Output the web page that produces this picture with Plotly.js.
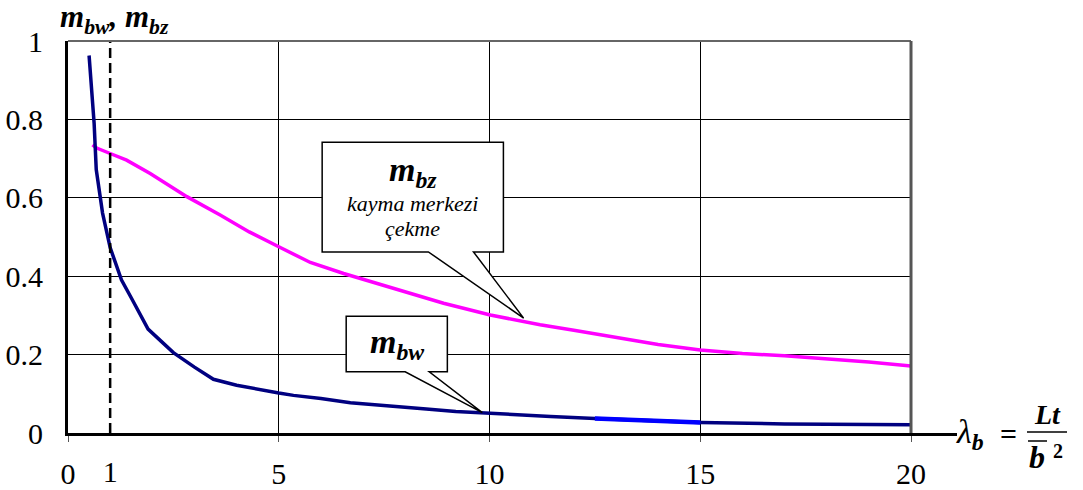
<!DOCTYPE html>
<html>
<head>
<meta charset="utf-8">
<script src="https://cdn.plot.ly/plotly-3.0.1.min.js"></script>
<style>html,body{margin:0;padding:0;background:#fff;}#chart{width:1083px;height:490px;}</style>
</head>
<body>
<div id="chart"></div>
<script>
// ---- data ----
const mbwX = [0.5, 0.58, 0.62, 0.67, 0.82, 1.0, 1.27, 1.5, 1.9, 2.2, 2.5, 3.0, 3.45, 4.0, 4.55, 5.0, 5.35, 6.0, 6.7, 7.5, 8.5, 9.2, 10.0, 10.5, 11.45, 12.5, 15.0, 17.0, 20.0];
const mbwY = [0.963, 0.86, 0.79, 0.672, 0.561, 0.473, 0.39, 0.345, 0.265, 0.235, 0.205, 0.168, 0.137, 0.122, 0.11, 0.102, 0.096, 0.088, 0.077, 0.069, 0.061, 0.055, 0.05, 0.047, 0.042, 0.037, 0.027, 0.023, 0.021];
const mbzX = [0.58, 0.68, 1.0, 1.39, 1.95, 2.82, 3.61, 4.3, 5.0, 5.75, 6.54, 7.33, 8.12, 8.91, 10.02, 10.81, 11.2, 12.0, 13.0, 14.0, 15.0, 16.0, 17.0, 18.0, 19.0, 20.0];
const mbzY = [0.735, 0.727, 0.713, 0.696, 0.662, 0.603, 0.556, 0.513, 0.475, 0.435, 0.407, 0.382, 0.356, 0.331, 0.301, 0.284, 0.276, 0.262, 0.245, 0.226, 0.212, 0.203, 0.197, 0.19, 0.181, 0.171];
const highlightRange = [12.5, 15.0];
const refLineX = [1, 1];
const refLineY = [0, 1];
const xTickVals = [0, 5, 10, 15, 20];
const xTickText = ['0', '5', '10', '15', '20'];
const x2TickVals = [1];
const x2TickText = ['1'];
const yTickVals = [0, 0.2, 0.4, 0.6, 0.8, 1];
const yTickText = ['0', '0.2', '0.4', '0.6', '0.8', '1'];

const hlX = [], hlY = [];
mbwX.forEach((x, i) => { if (x >= highlightRange[0] && x <= highlightRange[1]) { hlX.push(x); hlY.push(mbwY[i]); } });

const SERIF = 'Liberation Serif';

const traces = [
  {x: refLineX, y: refLineY, xaxis: 'x2', yaxis: 'y', mode: 'lines', line: {color: '#000', width: 2.5, dash: '10px,5px'}, hoverinfo: 'skip'},
  {x: mbzX, y: mbzY, mode: 'lines', line: {color: '#FF00FF', width: 3.5}},
  {x: mbwX, y: mbwY, mode: 'lines', line: {color: '#000080', width: 3.5}},
  {x: hlX, y: hlY, mode: 'lines', line: {color: '#0000FF', width: 4.5}}
];

// callout geometry (data units)
const bz = {x0: 6.03, x1: 10.33, y0: 0.462, y1: 0.742, b0: 8.55, b1: 9.62, tx: 10.81, ty: 0.293};
const bw = {x0: 6.60, x1: 9.00, y0: 0.156, y1: 0.298, b0: 8.00, b1: 8.57, tx: 9.83, ty: 0.052};
function calloutPath(c) {
  return `M ${c.x0},${c.y1} L ${c.x1},${c.y1} L ${c.x1},${c.y0} L ${c.b1},${c.y0} L ${c.tx},${c.ty} L ${c.b0},${c.y0} L ${c.x0},${c.y0} Z`;
}

const W = 843, H = 392; // plot area px
const px = v => v / W, py = v => v / H;

const tickFont = {family: SERIF, size: 30, color: '#000'};

const layout = {
  width: 1083, height: 490,
  margin: {l: 68, r: 172, t: 41, b: 57, pad: 0},
  paper_bgcolor: '#fff', plot_bgcolor: '#fff',
  showlegend: false,
  font: {family: SERIF, color: '#000'},
  xaxis: {
    range: [0, 20], tickvals: xTickVals, ticktext: xTickText,
    showline: true, linewidth: 3, linecolor: '#000',
    showgrid: true, gridcolor: '#000', gridwidth: 1, zeroline: false,
    ticks: 'outside', ticklen: 6, tickcolor: '#555', tickwidth: 1,
    ticklabelstandoff: 6,
    tickfont: tickFont
  },
  xaxis2: {
    range: [0, 20], overlaying: 'x', anchor: 'y', side: 'bottom',
    tickvals: x2TickVals, ticktext: x2TickText,
    showline: false, showgrid: false, zeroline: false,
    ticks: 'outside', ticklen: 6, tickcolor: 'rgba(0,0,0,0)',
    ticklabelstandoff: 6,
    tickfont: tickFont
  },
  yaxis: {
    range: [0, 1], tickvals: yTickVals, ticktext: yTickText,
    showline: true, linewidth: 3, linecolor: '#000',
    showgrid: true, gridcolor: '#000', gridwidth: 1, zeroline: false,
    ticks: '', ticklabelstandoff: 16,
    tickfont: tickFont
  },
  shapes: [
    {type: 'line', xref: 'paper', yref: 'paper', x0: 0, x1: 1, y0: 1, y1: 1, line: {color: '#666', width: 2}, layer: 'above'},
    {type: 'line', xref: 'paper', yref: 'paper', x0: 1, x1: 1, y0: 0, y1: 1, line: {color: '#555', width: 3}, layer: 'above'},
    {type: 'line', xref: 'paper', yref: 'paper', x0: 0.99, x1: px(957 - 68), y0: -py(1.5), y1: -py(1.5), line: {color: '#000', width: 3}, layer: 'above'},
    {type: 'path', xref: 'x', yref: 'y', path: calloutPath(bz), fillcolor: '#fff', line: {color: '#000', width: 1.5}, layer: 'above'},
    {type: 'path', xref: 'x', yref: 'y', path: calloutPath(bw), fillcolor: '#fff', line: {color: '#000', width: 1.5}, layer: 'above'},
    {type: 'line', xref: 'paper', yref: 'paper', x0: px(1027 - 68), x1: px(1067 - 68), y0: py(433 - 432), y1: py(433 - 432), line: {color: '#000', width: 1.5}},
    {type: 'line', xref: 'paper', yref: 'paper', x0: px(1028 - 68), x1: px(1047 - 68), y0: py(433 - 441), y1: py(433 - 441), line: {color: '#000', width: 1.5}}
  ],
  annotations: [
    {xref: 'paper', yref: 'paper', x: px(58 - 68), y: py(433 - 19), xanchor: 'left', yanchor: 'middle', showarrow: false,
     text: '<b><i>m</i></b><sub><b><i>bw</i></b></sub><b><i>, m</i></b><sub><b><i>bz</i></b></sub>',
     font: {family: SERIF, size: 31, color: '#000'}},
    {xref: 'x', yref: 'y', x: (bz.x0 + bz.x1) / 2, y: 0.665, xanchor: 'center', yanchor: 'middle', showarrow: false,
     text: '<b><i>m</i></b><sub><b><i>bz</i></b></sub>', font: {family: SERIF, size: 34, color: '#000'}},
    {xref: 'x', yref: 'y', x: (bz.x0 + bz.x1) / 2, y: 0.585, xanchor: 'center', yanchor: 'middle', showarrow: false,
     text: '<i>kayma merkezi</i>', font: {family: SERIF, size: 22, color: '#000'}},
    {xref: 'x', yref: 'y', x: (bz.x0 + bz.x1) / 2, y: 0.522, xanchor: 'center', yanchor: 'middle', showarrow: false,
     text: '<i>çekme</i>', font: {family: SERIF, size: 22, color: '#000'}},
    {xref: 'x', yref: 'y', x: (bw.x0 + bw.x1) / 2, y: 0.228, xanchor: 'center', yanchor: 'middle', showarrow: false,
     text: '<b><i>m</i></b><sub><b><i>bw</i></b></sub>', font: {family: SERIF, size: 34, color: '#000'}},
    {xref: 'paper', yref: 'paper', x: px(954 - 68), y: py(433 - 434), xanchor: 'left', yanchor: 'middle', showarrow: false,
     text: '<i>λ</i><sub><b><i>b</i></b></sub>', font: {family: SERIF, size: 34, color: '#000'}},
    {xref: 'paper', yref: 'paper', x: px(1008 - 68), y: py(433 - 433), xanchor: 'center', yanchor: 'middle', showarrow: false,
     text: '<b>=</b>', font: {family: SERIF, size: 30, color: '#000'}},
    {xref: 'paper', yref: 'paper', x: px(1047 - 68), y: py(433 - 414), xanchor: 'center', yanchor: 'middle', showarrow: false,
     text: '<b><i>Lt</i></b>', font: {family: SERIF, size: 28, color: '#000'}},
    {xref: 'paper', yref: 'paper', x: px(1037 - 68), y: py(433 - 457), xanchor: 'center', yanchor: 'middle', showarrow: false,
     text: '<b><i>b</i></b>', font: {family: SERIF, size: 32, color: '#000'}},
    {xref: 'paper', yref: 'paper', x: px(1058 - 68), y: py(433 - 451), xanchor: 'center', yanchor: 'middle', showarrow: false,
     text: '<b>2</b>', font: {family: SERIF, size: 20, color: '#000'}}
  ]
};

Plotly.newPlot('chart', traces, layout, {displayModeBar: false, staticPlot: true});
</script>
</body>
</html>
